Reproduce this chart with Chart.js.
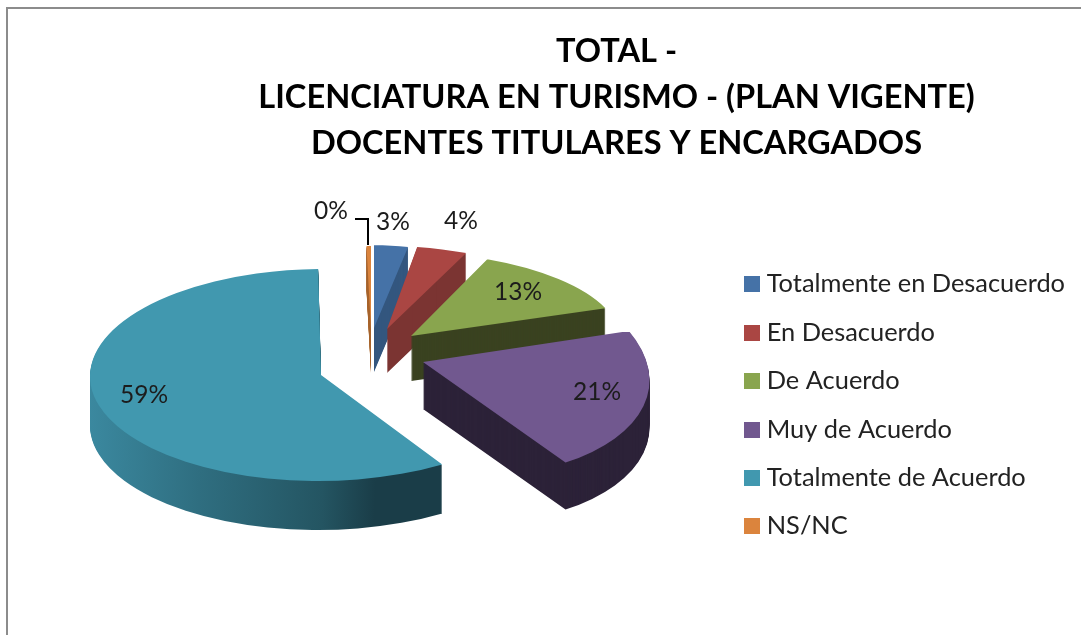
<!DOCTYPE html>
<html><head><meta charset="utf-8">
<style>html,body{margin:0;padding:0;background:#fff;overflow:hidden}canvas{display:block}</style>
<script src="https://cdn.jsdelivr.net/npm/chart.js@4"></script>
</head><body>
<div style="width:1081px;height:635px;position:relative"><canvas id="c"></canvas></div>
<script>
const titleLines = ['TOTAL -', 'LICENCIATURA EN TURISMO - (PLAN VIGENTE)', 'DOCENTES TITULARES Y ENCARGADOS'];
const categories = ['Totalmente en Desacuerdo', 'En Desacuerdo', 'De Acuerdo', 'Muy de Acuerdo', 'Totalmente de Acuerdo', 'NS/NC'];
const values = [3, 4, 13, 21, 58.6, 0.4];
const faceColors = ['#4572A7', '#AA4643', '#89A54E', '#71588F', '#4198AF', '#DB843D'];
const sideColors = ['#34577F', '#7B3432', '#3A4220', '#2C2238', null, '#A8652F'];

const FONT = 'Lato, Carlito, sans-serif';
const R = 100;
// Per-slice oblique projection of the library's circular arcs: anchor, x axis, y axis, extrusion
const projection = [
  {t:[374,328], u:[182,3],  w:[0,83],   depth:44},
  {t:[387,329], u:[203,-2], w:[8,83],   depth:44},
  {t:[411,336], u:[209,-2], w:[14,84],  depth:45},
  {t:[423,362], u:[225,5],  w:[26,116], depth:47},
  {t:[321,375], u:[231,0],  w:[-3,106], depth:49},
  {t:[371,329], u:[180,0],  w:[0,83],   depth:44}
];
const labelAt = [[393,222],[461,221],[518,292],[597,392],[144,395],[331,211]];
const tealStops = [[0,'#3C8BA2'],[0.35,'#2F6E80'],[0.7,'#245562'],[0.85,'#1A3D48'],[1,'#1A3D48']];

function applyProj(ctx, arc, p, dy) {
  ctx.translate(p.t[0], p.t[1] + dy);
  ctx.transform(p.u[0]/R, p.u[1]/R, p.w[0]/R, p.w[1]/R, 0, 0);
  ctx.translate(-arc.x, -arc.y);
}
function swatch(color) {
  const s = document.createElement('canvas');
  s.width = 16; s.height = 16;
  const g = s.getContext('2d');
  g.fillStyle = color; g.fillRect(0,0,16,16);
  return s;
}
const pie3d = {
  id: 'pie3d',
  beforeDraw(chart) {
    const ctx = chart.ctx;
    ctx.save();
    ctx.strokeStyle = '#8C8C8C'; ctx.lineWidth = 2;
    ctx.beginPath(); ctx.moveTo(7, 635); ctx.lineTo(7, 8); ctx.lineTo(1081, 8); ctx.stroke();
    ctx.restore();
  },
  beforeDatasetsDraw(chart) {
    const ctx = chart.ctx;
    const arcs = chart.getDatasetMeta(0).data;
    [5,0,1,2,3,4].forEach(i => {
      const arc = arcs[i], p = projection[i], orig = arc.options;
      for (let d = p.depth; d >= 1; d--) {
        ctx.save();
        applyProj(ctx, arc, p, d);
        let fill = sideColors[i];
        if (!fill) {
          const inv = ctx.getTransform().inverse();
          const a = inv.transformPoint({x:90,y:0}), b = inv.transformPoint({x:442,y:0});
          fill = ctx.createLinearGradient(a.x, 0, b.x, 0);
          tealStops.forEach(s => fill.addColorStop(s[0], s[1]));
        }
        arc.options = {...orig, backgroundColor: fill};
        arc.draw(ctx);
        ctx.restore();
      }
      ctx.save();
      applyProj(ctx, arc, p, 0);
      arc.options = orig;
      arc.draw(ctx);
      ctx.restore();
    });
    return false;
  },
  afterDraw(chart) {
    const ctx = chart.ctx;
    ctx.save();
    ctx.strokeStyle = '#000'; ctx.lineWidth = 2;
    ctx.beginPath(); ctx.moveTo(355, 219); ctx.lineTo(368, 219); ctx.lineTo(368, 245); ctx.stroke();
    ctx.fillStyle = '#1c1c1c';
    ctx.font = '24.5px ' + FONT;
    ctx.textAlign = 'center'; ctx.textBaseline = 'middle';
    values.forEach((v, i) => ctx.fillText(Math.round(v) + '%', labelAt[i][0], labelAt[i][1]));
    ctx.restore();
  }
};
new Chart(document.getElementById('c'), {
  type: 'pie',
  data: { labels: categories, datasets: [{ data: values, backgroundColor: faceColors, borderWidth: 0, radius: R }] },
  plugins: [pie3d],
  options: {
    responsive: true, maintainAspectRatio: false, animation: false,
    layout: { padding: { left: 158, right: 6, bottom: 73 } },
    events: [],
    plugins: {
      tooltip: { enabled: false },
      title: {
        display: true, text: titleLines, color: '#000',
        font: { family: FONT, size: 32.6, weight: 'bold', lineHeight: 46/32.6 },
        padding: { top: 28, bottom: 8 }
      },
      legend: {
        position: 'right', align: 'end',
        labels: {
          color: '#222', font: { family: FONT, size: 25.4 },
          usePointStyle: true, pointStyleWidth: 5, boxHeight: 16,
          padding: 23,
          generateLabels(chart) {
            return Chart.overrides.pie.plugins.legend.labels.generateLabels(chart)
              .map((it, i) => ({...it, pointStyle: swatch(faceColors[i]), lineWidth: 0}));
          }
        }
      }
    }
  }
});
</script>
</body></html>
